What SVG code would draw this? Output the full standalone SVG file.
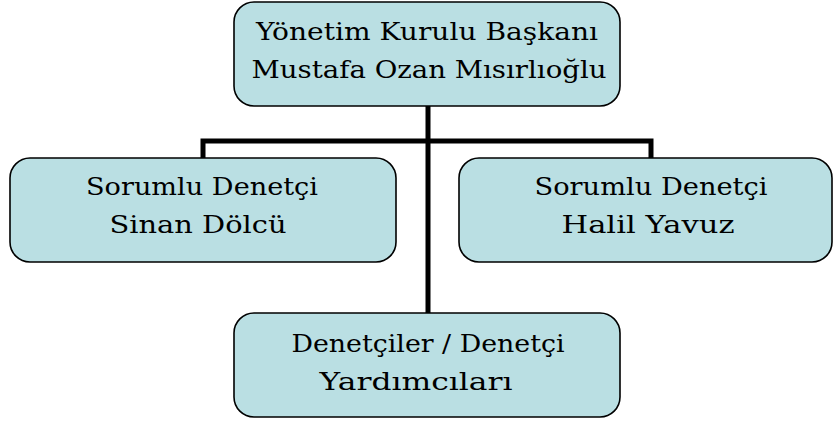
<svg xmlns="http://www.w3.org/2000/svg" width="835" height="422" viewBox="0 0 835 422">
<style>
.box{fill:#badfe3;stroke:#000;stroke-width:1.6}
.t{font-family:"DejaVu Serif","Noto Serif",serif;font-size:25px;fill:#000;text-anchor:middle}
.c{fill:none;stroke:#000;stroke-width:5}
</style>
<rect width="835" height="422" fill="#fff"/>
<g id="connectors">
<polyline class="c" points="203,158 203,141 651,141 651,158"/>
<line class="c" x1="428" y1="106" x2="428" y2="313"/>
</g>
<g id="top">
<rect class="box" x="234" y="2" width="386" height="104" rx="20"/>
<text class="t" x="427" y="40" textLength="342" lengthAdjust="spacingAndGlyphs">Yönetim Kurulu Başkanı</text>
<text class="t" x="429" y="78" textLength="355" lengthAdjust="spacingAndGlyphs">Mustafa Ozan Mısırlıoğlu</text>
</g>
<g id="left">
<rect class="box" x="10" y="158" width="386" height="104" rx="20"/>
<text class="t" x="202" y="195" textLength="232" lengthAdjust="spacingAndGlyphs">Sorumlu Denetçi</text>
<text class="t" x="198" y="233" textLength="177" lengthAdjust="spacingAndGlyphs">Sinan Dölcü</text>
</g>
<g id="right">
<rect class="box" x="459" y="158" width="373" height="104" rx="20"/>
<text class="t" x="651" y="195" textLength="233" lengthAdjust="spacingAndGlyphs">Sorumlu Denetçi</text>
<text class="t" x="648" y="233" textLength="173" lengthAdjust="spacingAndGlyphs">Halil Yavuz</text>
</g>
<g id="bottom">
<rect class="box" x="234" y="313" width="386" height="104" rx="20"/>
<text class="t" x="428" y="352" textLength="273" lengthAdjust="spacingAndGlyphs">Denetçiler / Denetçi</text>
<text class="t" x="416" y="390" textLength="193" lengthAdjust="spacingAndGlyphs">Yardımcıları</text>
</g>
</svg>
